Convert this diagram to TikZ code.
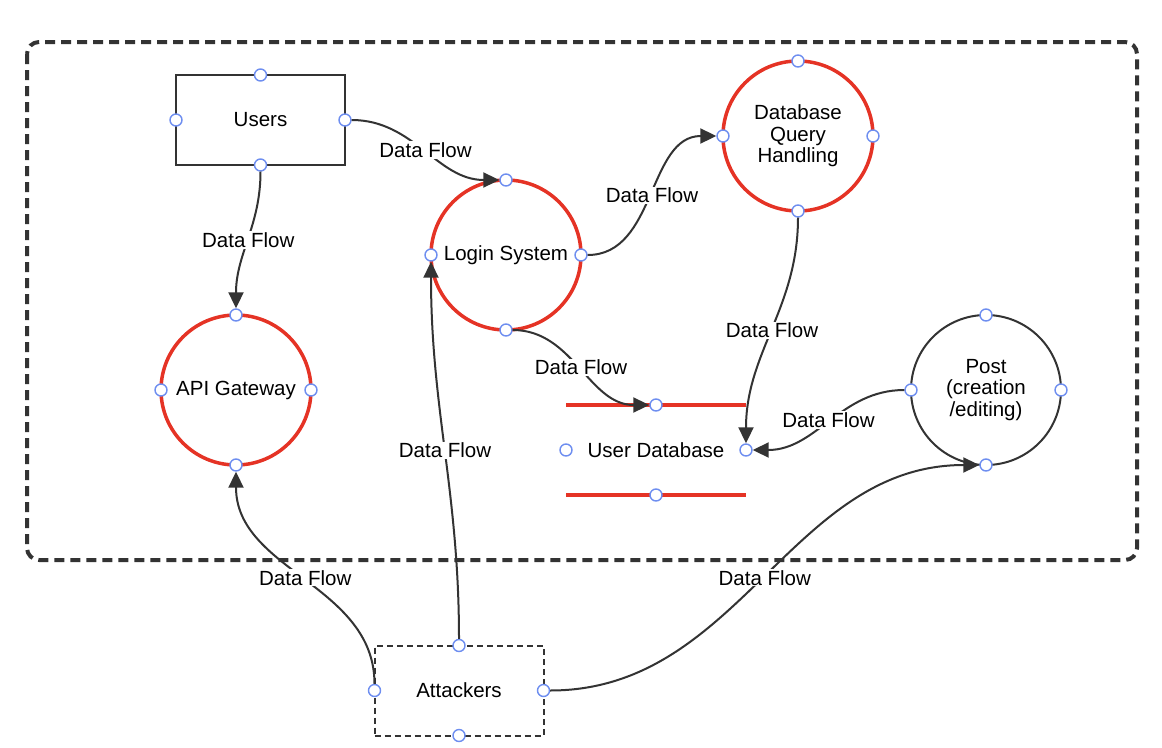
\documentclass[tikz,border=0pt]{standalone}
\usepackage{fontspec}
\setmainfont{Liberation Sans}
\usetikzlibrary{arrows.meta}
\definecolor{redc}{HTML}{E53325}
\definecolor{dark}{HTML}{333333}
\definecolor{anc}{HTML}{6E8EF0}
\newcommand\myfs{\fontsize{20.5}{21.5}\selectfont}
\begin{document}
\begin{tikzpicture}[x=1pt,y=-1pt,
  proc/.style={circle, draw=redc, line width=3.5pt, minimum size=150pt, inner sep=0pt, outer sep=0pt, align=center, font=\myfs, fill=white},
  ext/.style={circle, draw=dark, line width=2pt, minimum size=150pt, inner sep=0pt, outer sep=0pt, align=center, font=\myfs, fill=white},
  ent/.style={rectangle, draw=dark, line width=2pt, minimum width=169pt, minimum height=90pt, outer sep=0pt, font=\myfs, fill=white},
  attk/.style={ent, dash pattern=on 6pt off 4pt},
  anch/.style={circle, draw=anc, fill=white, line width=1.4pt, minimum size=12pt, inner sep=0pt},
  flow/.style={draw=dark, line width=2pt, -{Triangle[length=16pt,width=15pt]}},
  lbl/.style={fill=white, inner sep=1pt, font=\myfs, text=black},
  store/.style={draw=redc, line width=3.5pt}]
\useasboundingbox (0,0) rectangle (1162,747);
% boundary
\draw[dark, line width=4pt, dash pattern=on 10pt off 6pt, rounded corners=12pt] (27,42) rectangle (1137,560);
% main nodes
\node[ent] (users) at (260.5,120) {Users};
\node[proc] (login) at (506,255) {Login System};
\node[proc] (dbqh) at (798,136) {Database\\Query\\Handling};
\node[proc] (api) at (236,390) {API Gateway};
\node[ext] (post) at (986,390) {Post\\(creation\\/editing)};
\node[attk] (att) at (459,690.5) {Attackers};
% user database store
\coordinate (udtl) at (566,405);
\coordinate (udtr) at (746,405);
\coordinate (udbl) at (566,495);
\coordinate (udbr) at (746,495);
\draw[store] (udtl) -- (udtr);
\draw[store] (udbl) -- (udbr);
\node[font=\myfs] (ud) at (656,450) {User Database};
% anchors
\foreach \n in {users,login,dbqh,api,post,att}{
  \node[anch] (\n-t) at (\n.north) {};
  \node[anch] (\n-b) at (\n.south) {};
  \node[anch] (\n-l) at (\n.west) {};
  \node[anch] (\n-r) at (\n.east) {};
}
\node[anch] (ud-t) at (656,405) {};
\node[anch] (ud-b) at (656,495) {};
\node[anch] (ud-l) at (566,450) {};
\node[anch] (ud-r) at (746,450) {};
% flows
\draw[flow] (users-r) to[out=0,in=180] node[lbl]{Data Flow} (login-t);
\draw[flow] (login-r) to[out=0,in=180] node[lbl]{Data Flow} (dbqh-l);
\draw[flow] (users-b) to[out=-90,in=90] node[lbl]{Data Flow} (api-t);
\draw[flow] (login-b) to[out=0,in=180] node[lbl]{Data Flow} (ud-t);
\draw[flow] (dbqh-b) to[out=-90,in=90] node[lbl]{Data Flow} (ud-r);
\draw[flow] (post-l) to[out=180,in=0] node[lbl]{Data Flow} (ud-r);
\draw[flow] (att-l) to[out=90,in=-90] node[lbl]{Data Flow} (api-b);
\draw[flow] (att-t) to[out=90,in=-90] node[lbl]{Data Flow} (login-l);
\draw[flow] (att-r) to[out=0,in=180] node[lbl]{Data Flow} (post-b);
\end{tikzpicture}
\end{document}
